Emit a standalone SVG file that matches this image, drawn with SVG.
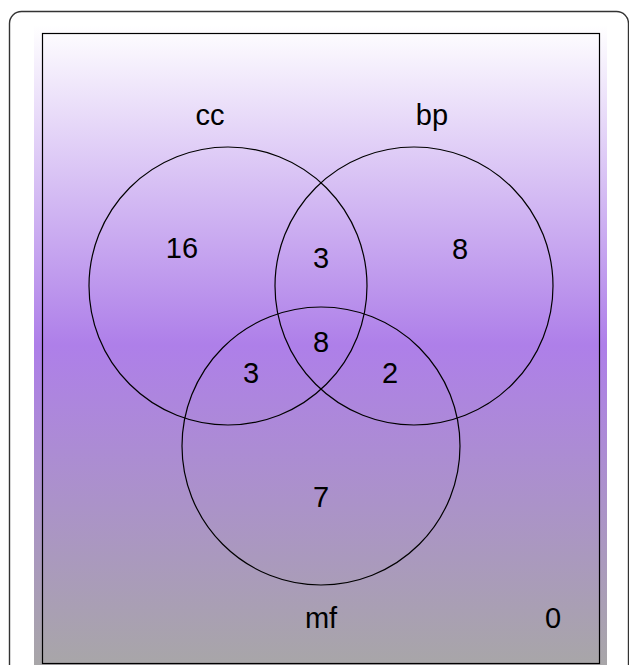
<svg xmlns="http://www.w3.org/2000/svg" width="629" height="665" viewBox="0 0 629 665">
  <defs>
    <linearGradient id="bg" x1="0" y1="0" x2="0" y2="1">
      <stop offset="0" stop-color="#ffffff"/>
      <stop offset="0.5" stop-color="#ae7fe9"/>
      <stop offset="1" stop-color="#a8a6a8"/>
    </linearGradient>
  </defs>
  <style>
    .set { fill: none; stroke: #000; stroke-width: 1.2; }
    .lbl { font-family: "Liberation Sans", Arial, sans-serif; font-size: 29px; fill: #000; text-anchor: middle; }
  </style>
  <!-- outer frame -->
  <rect x="9.5" y="11.5" width="619" height="700" rx="12" fill="#fff" stroke="#333" stroke-width="1.4"/>
  <!-- plot background -->
  <rect x="34" y="25" width="573" height="640" fill="url(#bg)"/>
  <rect x="42.5" y="33.5" width="557" height="630" fill="none" stroke="#000" stroke-width="1.2"/>
  <g id="connectors"></g>
  <g id="cc">
    <circle class="set" cx="228" cy="286" r="139"/>
    <text class="lbl" x="210" y="125">cc</text>
  </g>
  <g id="bp">
    <circle class="set" cx="414" cy="286" r="139"/>
    <text class="lbl" x="432" y="125">bp</text>
  </g>
  <g id="mf">
    <circle class="set" cx="321" cy="446" r="139"/>
    <text class="lbl" x="321" y="628">mf</text>
  </g>
  <g id="counts">
    <text class="lbl" x="182" y="258">16</text>
    <text class="lbl" x="321" y="268">3</text>
    <text class="lbl" x="460" y="259">8</text>
    <text class="lbl" x="321" y="352">8</text>
    <text class="lbl" x="251" y="383">3</text>
    <text class="lbl" x="390" y="383">2</text>
    <text class="lbl" x="321" y="507">7</text>
    <text class="lbl" x="553" y="628">0</text>
  </g>
</svg>
